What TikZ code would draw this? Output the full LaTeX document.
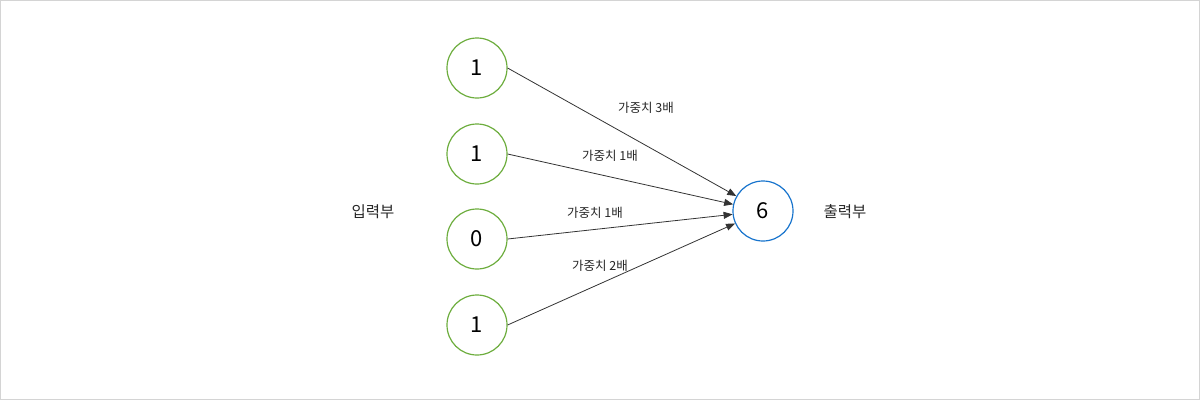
\documentclass[tikz,border=0pt]{standalone}
\usepackage{fontspec}
\setmainfont{Noto Sans CJK KR}
\usetikzlibrary{arrows.meta}
\definecolor{ingreen}{HTML}{6DAD3E}
\definecolor{outblue}{HTML}{1874CD}
\definecolor{framegray}{HTML}{D4D4D4}
\definecolor{edgegray}{HTML}{333333}
\begin{document}
\begin{tikzpicture}[x=1pt,y=-1pt,
  inode/.style={circle,draw=ingreen,line width=1.2pt,minimum size=60pt,inner sep=0pt,font=\fontsize{22}{24}\selectfont},
  onode/.style={circle,draw=outblue,line width=1.2pt,minimum size=60pt,inner sep=0pt,font=\fontsize{22}{24}\selectfont},
  edge/.style={draw=edgegray,line width=0.8pt,-{Triangle[length=9pt,width=7pt]}},
  wlabel/.style={font=\fontsize{12.5}{14}\selectfont,text=black!85},
  side/.style={font=\fontsize{15.5}{18}\selectfont,text=black!85}]
\useasboundingbox (0,0) rectangle (1200,400);
\draw[framegray,line width=1pt] (0.5,0.5) rectangle (1199.5,399.5);
\node[inode] (i1) at (477,68) {1};
\node[inode] (i2) at (477,154) {1};
\node[inode] (i3) at (477,239) {0};
\node[inode] (i4) at (477,325) {1};
\node[onode] (o) at (763,211) {6};
\node[side] (lin) at (373,212) {입력부};
\node[side] (lout) at (845,212) {출력부};
\draw[edge] (i1.east) -- (o);
\draw[edge] (i2.east) -- (o);
\draw[edge] (i3.east) -- (o);
\draw[edge] (i4.east) -- (o);
\node[wlabel] (w1) at (646,108) {가중치 3배};
\node[wlabel] (w2) at (610,156) {가중치 1배};
\node[wlabel] (w3) at (595,213) {가중치 1배};
\node[wlabel] (w4) at (600,266) {가중치 2배};
\end{tikzpicture}
\end{document}
